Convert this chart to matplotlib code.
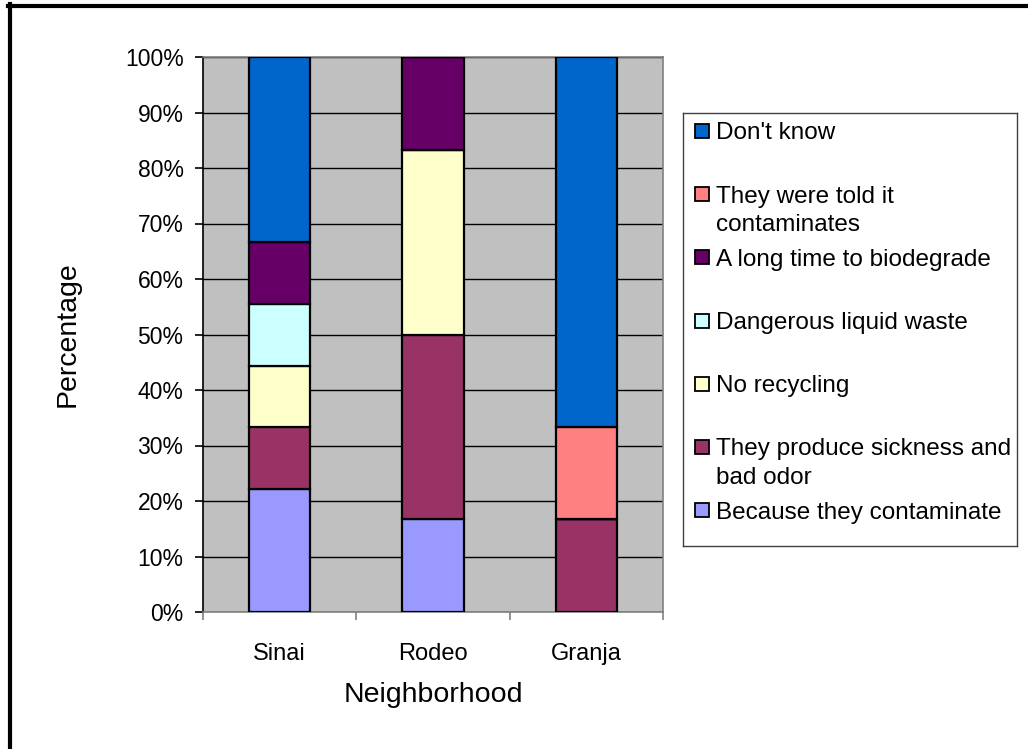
import matplotlib.pyplot as plt
import numpy as np
from matplotlib.lines import Line2D
from matplotlib.patches import Rectangle

plt.rcParams['font.family'] = ['Liberation Sans', 'DejaVu Sans']

barrios = ['Sinai', 'Rodeo', 'Granja']

# series from bottom to top of the stack
series = ['Because they contaminate',
          'They produce sickness and\nbad odor',
          'No recycling',
          'Dangerous liquid waste',
          'A long time to biodegrade',
          'They were told it\ncontaminates',
          "Don't know"]
colores = ['#9999FF', '#993366', '#FFFFCC', '#CCFFFF', '#660066', '#FF8080', '#0066CC']

# percentage per neighborhood (Sinai, Rodeo, Granja)
contaminan = [22.2, 16.7, 0]
enfermedad = [11.1, 33.3, 16.7]
no_reciclan = [11.1, 33.3, 0]
liquidos = [11.1, 0, 0]
biodegradar = [11.1, 16.7, 0]
les_dijeron = [0, 0, 16.7]
no_sabe = [33.4, 0, 66.6]

valores = [contaminan, enfermedad, no_reciclan, liquidos, biodegradar, les_dijeron, no_sabe]

fig = plt.figure(figsize=(10.28, 7.49), dpi=100)
W, H = 1028, 749

ax = fig.add_axes([203 / W, 1 - 612 / H, 460 / W, 555 / H])
ax.set_facecolor('#C0C0C0')

x = np.arange(len(barrios))
base = np.zeros(len(barrios))
for vals, col in zip(valores, colores):
    ax.bar(x, vals, 0.4, bottom=base, color=col, edgecolor='black', linewidth=1.6, zorder=3)
    base += np.array(vals)

ax.set_xlim(-0.5, 2.5)
ax.set_ylim(0, 100)
ax.set_yticks(np.arange(0, 101, 10))
ax.set_yticklabels([f'{v}%' for v in range(0, 101, 10)], fontsize=16.5)
ax.grid(axis='y', color='black', linewidth=1, zorder=0)
ax.set_axisbelow(True)

ax.set_xticks(x)
ax.set_xticklabels(barrios, fontsize=17)
ax.set_xticks([-0.5, 0.5, 1.5, 2.5], minor=True)
ax.tick_params(axis='x', which='major', length=0, pad=22)
ax.tick_params(axis='x', which='minor', length=6, color='#808080', width=1.2, direction='out')
ax.tick_params(axis='y', length=6, width=1.2, pad=8)

for s in ['top', 'right', 'bottom']:
    ax.spines[s].set_color('#808080')
    ax.spines[s].set_linewidth(1.2)
ax.spines['left'].set_color('black')
ax.spines['left'].set_linewidth(1.2)

ax.set_xlabel('Neighborhood', fontsize=20.5, labelpad=12.5)
ax.set_ylabel('Percentage', fontsize=20.5, labelpad=32)

# legend box drawn in pixel-like units
lg = fig.add_axes([683 / W, 1 - 546 / H, 334 / W, 433 / H])
lg.set_xlim(0, 334)
lg.set_ylim(433, 0)
lg.set_xticks([])
lg.set_yticks([])
for s in lg.spines.values():
    s.set_color('#404040')
    s.set_linewidth(1)
for i, (lab, col) in enumerate(zip(series[::-1], colores[::-1])):
    yc = 18 + 63.2 * i
    lg.add_patch(Rectangle((12, yc - 7), 14, 14, facecolor=col, edgecolor='black', linewidth=1.3))
    for k, linea in enumerate(lab.split('\n')):
        lg.text(33, yc + 8.5 + 28.5 * k, linea, fontsize=17.5, va='baseline', ha='left')

# outer border (top and left)
fig.add_artist(Line2D([8 / W, 1], [1 - 6 / H, 1 - 6 / H], color='black', linewidth=3, transform=fig.transFigure))
fig.add_artist(Line2D([10 / W, 10 / W], [0, 1 - 4 / H], color='black', linewidth=3, transform=fig.transFigure))

plt.savefig('out.png', dpi=100)
